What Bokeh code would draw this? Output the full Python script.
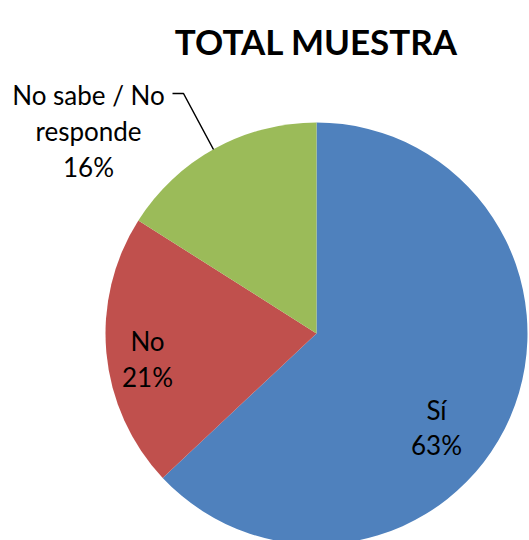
import math
from bokeh.plotting import figure
from bokeh.models import Range1d
from bokeh.core.properties import value
from bokeh.embed import file_html
from bokeh.resources import INLINE

# ---- data ----
categories = ["Sí", "No", "No sabe / No responde"]
percentages = [63, 21, 16]
label_lines = [["Sí", "63%"], ["No", "21%"], ["No sabe / No", "responde", "16%"]]
colors = ["#4F81BD", "#C0504D", "#9BBB59"]
title_text = "TOTAL MUESTRA"

W, H = 529, 540
FONT = "Lato"

p = figure(width=W, height=H, output_backend="svg", toolbar_location=None,
           x_range=Range1d(0, W), y_range=Range1d(0, H),
           x_axis_type=None, y_axis_type=None, min_border=0)
p.outline_line_color = None
p.grid.visible = False
p.background_fill_color = "white"

def px(x):  # page x -> data x
    return x
def py(y):  # page y -> data y
    return H - y

cx, cy, r = px(316), py(333), 211

total = sum(percentages)
start = math.pi / 2
for val, col in zip(percentages, colors):
    sweep = 2 * math.pi * val / total
    end = start - sweep
    p.wedge(x=cx, y=cy, radius=r, start_angle=end, end_angle=start,
            fill_color=col, line_color=None)
    start = end

# label layout (page coords of line centers / baselines)
label_pos = [(436, [409, 444]), (147, [340, 376]), (88, [94, 130, 166])]
for lines, (lx, bases) in zip(label_lines, label_pos):
    for t, b in zip(lines, bases):
        p.text(x=[px(lx)], y=[py(b)], text=[t], text_align="center",
               text_baseline="alphabetic", text_font=value(FONT),
               text_font_size="26px", text_color="black")

# leader line
p.line(x=[px(172), px(183), px(213)], y=[py(93), py(93), py(149)],
       line_color="black", line_width=1.5)

# title
p.text(x=[px(316)], y=[py(40)], text=[title_text], text_align="center",
       text_baseline="alphabetic", text_font=value(FONT), text_font_style="bold",
       text_font_size="35px", text_color="black")

open("out.html", "w").write(file_html(p, INLINE))
